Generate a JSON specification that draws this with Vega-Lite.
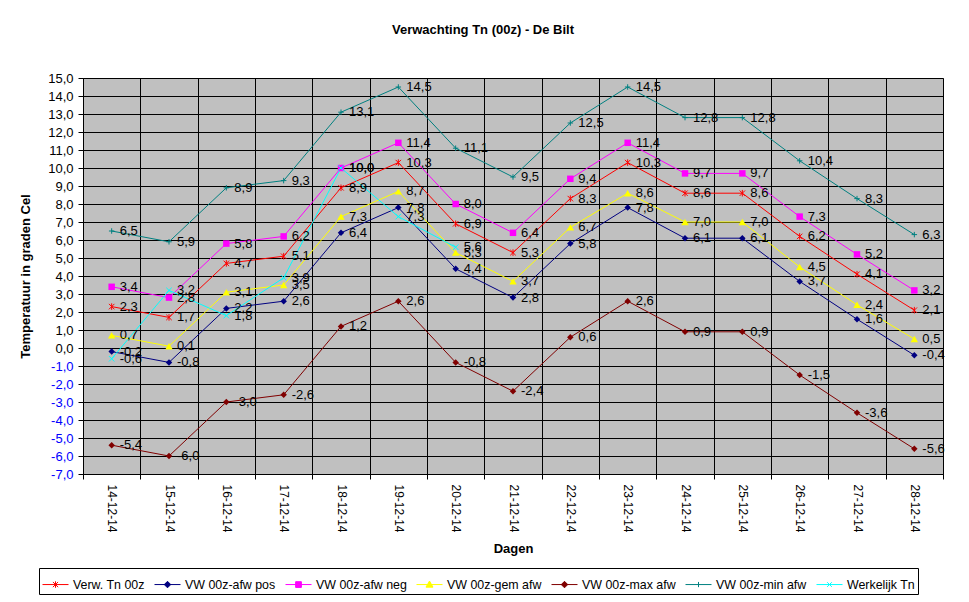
{
  "$schema": "https://vega.github.io/schema/vega-lite/v6.json",
  "description": "Verwachting Tn (00z) - De Bilt",
  "width": 860,
  "height": 396,
  "autosize": {"type": "none"},
  "padding": {"left": 83, "top": 78, "right": 26, "bottom": 128},
  "background": "white",
  "title": {
    "text": "Verwachting Tn (00z) - De Bilt",
    "fontSize": 13,
    "fontWeight": "bold",
    "anchor": "middle",
    "dx": -30,
    "offset": 35
  },
  "data": {
    "values": [
      {"dag": "14-12-14", "serie": "Verw. Tn 00z", "v": 2.3},
      {"dag": "15-12-14", "serie": "Verw. Tn 00z", "v": 1.7},
      {"dag": "16-12-14", "serie": "Verw. Tn 00z", "v": 4.7},
      {"dag": "17-12-14", "serie": "Verw. Tn 00z", "v": 5.1},
      {"dag": "18-12-14", "serie": "Verw. Tn 00z", "v": 8.9},
      {"dag": "19-12-14", "serie": "Verw. Tn 00z", "v": 10.3},
      {"dag": "20-12-14", "serie": "Verw. Tn 00z", "v": 6.9},
      {"dag": "21-12-14", "serie": "Verw. Tn 00z", "v": 5.3},
      {"dag": "22-12-14", "serie": "Verw. Tn 00z", "v": 8.3},
      {"dag": "23-12-14", "serie": "Verw. Tn 00z", "v": 10.3},
      {"dag": "24-12-14", "serie": "Verw. Tn 00z", "v": 8.6},
      {"dag": "25-12-14", "serie": "Verw. Tn 00z", "v": 8.6},
      {"dag": "26-12-14", "serie": "Verw. Tn 00z", "v": 6.2},
      {"dag": "27-12-14", "serie": "Verw. Tn 00z", "v": 4.1},
      {"dag": "28-12-14", "serie": "Verw. Tn 00z", "v": 2.1},

      {"dag": "14-12-14", "serie": "VW 00z-afw pos", "v": -0.2},
      {"dag": "15-12-14", "serie": "VW 00z-afw pos", "v": -0.8},
      {"dag": "16-12-14", "serie": "VW 00z-afw pos", "v": 2.2},
      {"dag": "17-12-14", "serie": "VW 00z-afw pos", "v": 2.6},
      {"dag": "18-12-14", "serie": "VW 00z-afw pos", "v": 6.4},
      {"dag": "19-12-14", "serie": "VW 00z-afw pos", "v": 7.8},
      {"dag": "20-12-14", "serie": "VW 00z-afw pos", "v": 4.4},
      {"dag": "21-12-14", "serie": "VW 00z-afw pos", "v": 2.8},
      {"dag": "22-12-14", "serie": "VW 00z-afw pos", "v": 5.8},
      {"dag": "23-12-14", "serie": "VW 00z-afw pos", "v": 7.8},
      {"dag": "24-12-14", "serie": "VW 00z-afw pos", "v": 6.1},
      {"dag": "25-12-14", "serie": "VW 00z-afw pos", "v": 6.1},
      {"dag": "26-12-14", "serie": "VW 00z-afw pos", "v": 3.7},
      {"dag": "27-12-14", "serie": "VW 00z-afw pos", "v": 1.6},
      {"dag": "28-12-14", "serie": "VW 00z-afw pos", "v": -0.4},

      {"dag": "14-12-14", "serie": "VW 00z-afw neg", "v": 3.4},
      {"dag": "15-12-14", "serie": "VW 00z-afw neg", "v": 2.8},
      {"dag": "16-12-14", "serie": "VW 00z-afw neg", "v": 5.8},
      {"dag": "17-12-14", "serie": "VW 00z-afw neg", "v": 6.2},
      {"dag": "18-12-14", "serie": "VW 00z-afw neg", "v": 10.0},
      {"dag": "19-12-14", "serie": "VW 00z-afw neg", "v": 11.4},
      {"dag": "20-12-14", "serie": "VW 00z-afw neg", "v": 8.0},
      {"dag": "21-12-14", "serie": "VW 00z-afw neg", "v": 6.4},
      {"dag": "22-12-14", "serie": "VW 00z-afw neg", "v": 9.4},
      {"dag": "23-12-14", "serie": "VW 00z-afw neg", "v": 11.4},
      {"dag": "24-12-14", "serie": "VW 00z-afw neg", "v": 9.7},
      {"dag": "25-12-14", "serie": "VW 00z-afw neg", "v": 9.7},
      {"dag": "26-12-14", "serie": "VW 00z-afw neg", "v": 7.3},
      {"dag": "27-12-14", "serie": "VW 00z-afw neg", "v": 5.2},
      {"dag": "28-12-14", "serie": "VW 00z-afw neg", "v": 3.2},

      {"dag": "14-12-14", "serie": "VW 00z-gem afw", "v": 0.7},
      {"dag": "15-12-14", "serie": "VW 00z-gem afw", "v": 0.1},
      {"dag": "16-12-14", "serie": "VW 00z-gem afw", "v": 3.1},
      {"dag": "17-12-14", "serie": "VW 00z-gem afw", "v": 3.5},
      {"dag": "18-12-14", "serie": "VW 00z-gem afw", "v": 7.3},
      {"dag": "19-12-14", "serie": "VW 00z-gem afw", "v": 8.7},
      {"dag": "20-12-14", "serie": "VW 00z-gem afw", "v": 5.3},
      {"dag": "21-12-14", "serie": "VW 00z-gem afw", "v": 3.7},
      {"dag": "22-12-14", "serie": "VW 00z-gem afw", "v": 6.7},
      {"dag": "23-12-14", "serie": "VW 00z-gem afw", "v": 8.6},
      {"dag": "24-12-14", "serie": "VW 00z-gem afw", "v": 7.0},
      {"dag": "25-12-14", "serie": "VW 00z-gem afw", "v": 7.0},
      {"dag": "26-12-14", "serie": "VW 00z-gem afw", "v": 4.5},
      {"dag": "27-12-14", "serie": "VW 00z-gem afw", "v": 2.4},
      {"dag": "28-12-14", "serie": "VW 00z-gem afw", "v": 0.5},

      {"dag": "14-12-14", "serie": "VW 00z-max afw", "v": -5.4},
      {"dag": "15-12-14", "serie": "VW 00z-max afw", "v": -6.0},
      {"dag": "16-12-14", "serie": "VW 00z-max afw", "v": -3.0},
      {"dag": "17-12-14", "serie": "VW 00z-max afw", "v": -2.6},
      {"dag": "18-12-14", "serie": "VW 00z-max afw", "v": 1.2},
      {"dag": "19-12-14", "serie": "VW 00z-max afw", "v": 2.6},
      {"dag": "20-12-14", "serie": "VW 00z-max afw", "v": -0.8},
      {"dag": "21-12-14", "serie": "VW 00z-max afw", "v": -2.4},
      {"dag": "22-12-14", "serie": "VW 00z-max afw", "v": 0.6},
      {"dag": "23-12-14", "serie": "VW 00z-max afw", "v": 2.6},
      {"dag": "24-12-14", "serie": "VW 00z-max afw", "v": 0.9},
      {"dag": "25-12-14", "serie": "VW 00z-max afw", "v": 0.9},
      {"dag": "26-12-14", "serie": "VW 00z-max afw", "v": -1.5},
      {"dag": "27-12-14", "serie": "VW 00z-max afw", "v": -3.6},
      {"dag": "28-12-14", "serie": "VW 00z-max afw", "v": -5.6},

      {"dag": "14-12-14", "serie": "VW 00z-min afw", "v": 6.5},
      {"dag": "15-12-14", "serie": "VW 00z-min afw", "v": 5.9},
      {"dag": "16-12-14", "serie": "VW 00z-min afw", "v": 8.9},
      {"dag": "17-12-14", "serie": "VW 00z-min afw", "v": 9.3},
      {"dag": "18-12-14", "serie": "VW 00z-min afw", "v": 13.1},
      {"dag": "19-12-14", "serie": "VW 00z-min afw", "v": 14.5},
      {"dag": "20-12-14", "serie": "VW 00z-min afw", "v": 11.1},
      {"dag": "21-12-14", "serie": "VW 00z-min afw", "v": 9.5},
      {"dag": "22-12-14", "serie": "VW 00z-min afw", "v": 12.5},
      {"dag": "23-12-14", "serie": "VW 00z-min afw", "v": 14.5},
      {"dag": "24-12-14", "serie": "VW 00z-min afw", "v": 12.8},
      {"dag": "25-12-14", "serie": "VW 00z-min afw", "v": 12.8},
      {"dag": "26-12-14", "serie": "VW 00z-min afw", "v": 10.4},
      {"dag": "27-12-14", "serie": "VW 00z-min afw", "v": 8.3},
      {"dag": "28-12-14", "serie": "VW 00z-min afw", "v": 6.3},

      {"dag": "14-12-14", "serie": "Werkelijk Tn", "v": -0.6},
      {"dag": "15-12-14", "serie": "Werkelijk Tn", "v": 3.2},
      {"dag": "16-12-14", "serie": "Werkelijk Tn", "v": 1.8},
      {"dag": "17-12-14", "serie": "Werkelijk Tn", "v": 3.9},
      {"dag": "18-12-14", "serie": "Werkelijk Tn", "v": 10.0},
      {"dag": "19-12-14", "serie": "Werkelijk Tn", "v": 7.3},
      {"dag": "20-12-14", "serie": "Werkelijk Tn", "v": 5.6}
    ]
  },
  "encoding": {
    "x": {
      "field": "dag",
      "type": "nominal",
      "sort": null,
      "bandPosition": 0.5,
      "scale": {"type": "band", "paddingInner": 0, "paddingOuter": 0},
      "axis": {
        "title": "Dagen",
        "titleFontSize": 13,
        "titleFontWeight": "bold",
        "titleY": 74,
        "titleBaseline": "middle",
        "labelAngle": 90,
        "labelFontSize": 12,
        "labelPadding": 5,
        "labelColor": "black",
        "tickBand": "extent",
        "tickSize": 5,
        "tickColor": "black",
        "domainColor": "black",
        "grid": true,
        "gridColor": "black",
        "gridOpacity": 1
      }
    },
    "y": {
      "field": "v",
      "type": "quantitative",
      "scale": {"domain": [-7, 15], "nice": false, "zero": false},
      "axis": {
        "title": "Temperatuur in graden Cel",
        "titleFontSize": 13,
        "titleFontWeight": "bold",
        "titleX": -58,
        "titleY": 198,
        "titleAngle": -90,
        "titleAlign": "center",
        "titleBaseline": "middle",
        "values": [-7, -6, -5, -4, -3, -2, -1, 0, 1, 2, 3, 4, 5, 6, 7, 8, 9, 10, 11, 12, 13, 14, 15],
        "format": ".1f",
        "labelFontSize": 13,
        "labelPadding": 5,
        "labelColor": {"condition": {"test": "datum.value < 0", "value": "#0000ff"}, "value": "black"},
        "tickSize": 5,
        "tickColor": "black",
        "domainColor": "black",
        "grid": true,
        "gridColor": "black",
        "gridOpacity": 1
      }
    },
    "color": {
      "field": "serie",
      "type": "nominal",
      "scale": {
        "domain": ["Verw. Tn 00z", "VW 00z-afw pos", "VW 00z-afw neg", "VW 00z-gem afw", "VW 00z-max afw", "VW 00z-min afw", "Werkelijk Tn"],
        "range": ["#ff0000", "#000080", "#ff00ff", "#ffff00", "#800000", "#008080", "#00ffff"]
      },
      "legend": {
        "title": null,
        "orient": "none",
        "legendX": -44,
        "legendY": 490,
        "direction": "horizontal",
        "columns": 7,
        "strokeColor": "black",
        "fillColor": "white",
        "padding": 3,
        "symbolSize": 676,
        "symbolOpacity": 1,
        "symbolStrokeWidth": 1,
        "labelFontSize": 12.4,
        "labelColor": "black",
        "labelOffset": 4,
        "labelLimit": 0,
        "columnPadding": 7
      }
    }
  },
  "layer": [
    {"mark": {"type": "line", "strokeWidth": 1}},
    {
      "transform": [{"filter": "datum.serie == 'Verw. Tn 00z'"}],
      "mark": {"type": "point", "shape": "M-1,-1L1,1M-1,1L1,-1M0,-1.2L0,1.2", "filled": false, "size": 30, "strokeWidth": 1, "opacity": 1}
    },
    {
      "transform": [{"filter": {"field": "serie", "oneOf": ["VW 00z-afw pos", "VW 00z-max afw"]}}],
      "mark": {"type": "point", "shape": "diamond", "filled": true, "size": 42, "opacity": 1}
    },
    {
      "transform": [{"filter": "datum.serie == 'VW 00z-afw neg'"}],
      "mark": {"type": "point", "shape": "square", "filled": true, "size": 42, "opacity": 1}
    },
    {
      "transform": [{"filter": "datum.serie == 'VW 00z-gem afw'"}],
      "mark": {"type": "point", "shape": "triangle-up", "filled": true, "size": 55, "opacity": 1}
    },
    {
      "transform": [{"filter": "datum.serie == 'VW 00z-min afw'"}],
      "mark": {"type": "point", "shape": "M-1,0L1,0M0,-1L0,1", "filled": false, "size": 30, "strokeWidth": 1, "opacity": 1}
    },
    {
      "transform": [{"filter": "datum.serie == 'Werkelijk Tn'"}],
      "mark": {"type": "point", "shape": "M-1,-1L1,1M-1,1L1,-1", "filled": false, "size": 30, "strokeWidth": 1, "opacity": 1}
    },
    {
      "mark": {"type": "point", "filled": false, "opacity": 0, "strokeWidth": 1},
      "encoding": {
        "shape": {
          "field": "serie",
          "type": "nominal",
          "scale": {
            "domain": ["Verw. Tn 00z", "VW 00z-afw pos", "VW 00z-afw neg", "VW 00z-gem afw", "VW 00z-max afw", "VW 00z-min afw", "Werkelijk Tn"],
            "range": [
              "M-1,0L1,0M-0.2,-0.2L0.2,0.2M-0.2,0.2L0.2,-0.2M0,-0.25L0,0.25",
              "M-1,0L1,0M0,-0.25L0.25,0L0,0.25L-0.25,0ZM0,-0.12L0.12,0L0,0.12L-0.12,0Z",
              "M-1,0L1,0M-0.22,-0.22L0.22,-0.22L0.22,0.22L-0.22,0.22ZM-0.1,-0.1L0.1,-0.1L0.1,0.1L-0.1,0.1Z",
              "M-1,0L1,0M0,-0.27L0.27,0.2L-0.27,0.2ZM0,-0.12L0.12,0.1L-0.12,0.1Z",
              "M-1,0L1,0M0,-0.25L0.25,0L0,0.25L-0.25,0ZM0,-0.12L0.12,0L0,0.12L-0.12,0Z",
              "M-1,0L1,0M0,-0.2L0,0.2",
              "M-1,0L1,0M-0.18,-0.18L0.18,0.18M-0.18,0.18L0.18,-0.18"
            ]
          },
          "legend": {
            "title": null,
            "orient": "none",
            "legendX": -44,
            "legendY": 490,
            "direction": "horizontal",
            "columns": 7,
            "strokeColor": "black",
            "fillColor": "white",
            "padding": 3,
            "symbolSize": 676,
            "symbolOpacity": 1,
            "symbolStrokeWidth": 1,
            "labelFontSize": 12.4,
            "labelColor": "black",
            "labelOffset": 4,
            "labelLimit": 0,
            "columnPadding": 7
          }
        }
      }
    },
    {
      "mark": {"type": "text", "align": "left", "baseline": "middle", "dx": 8, "fontSize": 13},
      "encoding": {
        "text": {"field": "v", "type": "quantitative", "format": ".1f"},
        "color": {"value": "black"}
      }
    }
  ],
  "config": {
    "font": "Liberation Sans",
    "locale": {
      "number": {"decimal": ",", "thousands": ".", "grouping": [3], "currency": ["€", ""], "minus": "-"}
    },
    "view": {"fill": "#c0c0c0", "stroke": "#808080"},
    "axis": {"labelFont": "Liberation Sans", "titleFont": "Liberation Sans"},
    "legend": {"labelFont": "Liberation Sans"},
    "title": {"font": "Liberation Sans", "color": "black"}
  }
}
